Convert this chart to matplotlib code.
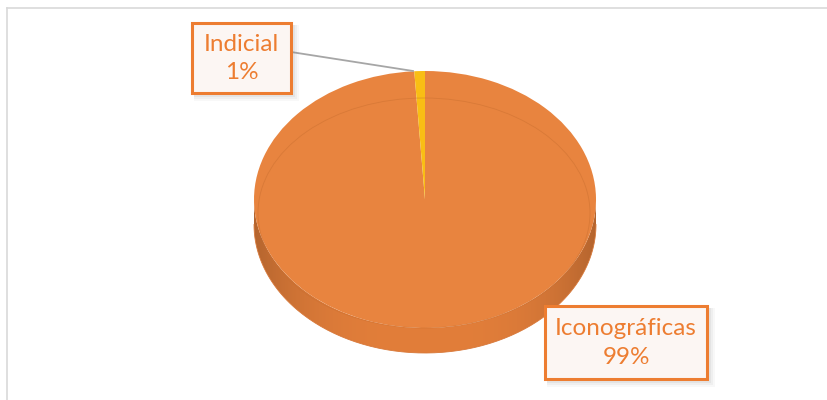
import numpy as np
import matplotlib
matplotlib.use("Agg")
import matplotlib.pyplot as plt
from matplotlib.patches import Rectangle, Ellipse, PathPatch
from matplotlib.path import Path
from matplotlib.transforms import Affine2D

# ---- data ----
categories = ["Iconográficas", "Indicial"]
values = [99, 1]
pct_labels = ["99%", "1%"]
colors = ["#E8843F", "#F9BE14"]

W, H = 827, 400
fig = plt.figure(figsize=(W / 100, H / 100), dpi=100)
ax = fig.add_axes([0, 0, 1, 1])
ax.set_xlim(0, W)
ax.set_ylim(H, 0)
ax.axis("off")

# chart frame
ax.plot([7, 827], [8, 8], color="#D9D9D9", lw=1.2, zorder=1)
ax.plot([7, 7], [8, 400], color="#D9D9D9", lw=1.2, zorder=1)

# pie geometry (pixels)
cx, cy = 425, 199.5
a, b = 171, 128.5
depth = 25

# side of the cylinder (gradient clipped to the side region)
t = np.linspace(0, np.pi, 200)
top_x = cx - a * np.cos(t)
top_y = cy + b * np.sin(t)
verts = list(zip(top_x, top_y)) + list(zip(top_x[::-1], top_y[::-1] + depth))
side_path = Path(verts + [verts[0]], closed=True)
side_patch = PathPatch(side_path, facecolor="none", edgecolor="none")
ax.add_patch(side_patch)
xs = np.linspace(-1, 1, 300)
shade = 1 - 0.2 * np.abs(xs) ** 3
base = np.array([226, 126, 58]) / 255.0
img = np.clip(base[None, :] * shade[:, None], 0, 1)[None, :, :]
im = ax.imshow(img, extent=[cx - a, cx + a, cy + b + depth, cy], aspect="auto",
               zorder=2, interpolation="bilinear")
im.set_clip_path(side_patch)
ax.plot(top_x, top_y + depth, color="#D8793A", lw=0.6, zorder=2.5)

# top face via pie, mapped onto an ellipse
wedges, _ = ax.pie(values, colors=colors, startangle=90, counterclock=False,
                   radius=1, center=(0, 0), wedgeprops=dict(linewidth=0))
ax.set_xlim(0, W)
ax.set_ylim(H, 0)
ax.set_aspect("auto")
ell_tr = Affine2D().scale(a, -b).translate(cx, cy) + ax.transData
for w in wedges:
    w.set_transform(ell_tr)
    w.set_zorder(3)

# subtle bevel line
ax.add_patch(Ellipse((424, 213), 332, 230, facecolor="none",
                     edgecolor="#C96F30", lw=0.6, alpha=0.5, zorder=4))

# labels
font = "Lato"
tcol = "#ED7D31"


def label_box(x0, y0, x1, y1, l1, l2):
    for k, al in [(6, 0.05), (4, 0.07), (2, 0.09)]:
        ax.add_patch(Rectangle((x0 + 2, y0 + 2), x1 - x0 + k, y1 - y0 + k,
                               facecolor="#7F7F7F", edgecolor="none",
                               alpha=al, zorder=5))
    ax.add_patch(Rectangle((x0, y0), x1 - x0, y1 - y0, facecolor="#FCF6F3",
                           edgecolor=tcol, lw=2.2, zorder=6))
    xc = (x0 + x1) / 2
    ax.text(xc, y0 + (y1 - y0) * 0.31, l1, ha="center", va="center",
            fontsize=17.5, color=tcol, family=font, zorder=7)
    ax.text(xc, y0 + (y1 - y0) * 0.71, l2, ha="center", va="center",
            fontsize=17.5, color=tcol, family=font, zorder=7)


# leader line for Indicial
ax.plot([291, 413], [52, 71], color="#A6A6A6", lw=1.3, zorder=4)

label_box(192, 23, 291, 93, categories[1], pct_labels[1])
label_box(545, 306, 707, 379, categories[0], pct_labels[0])

fig.savefig("out.png", dpi=100)
